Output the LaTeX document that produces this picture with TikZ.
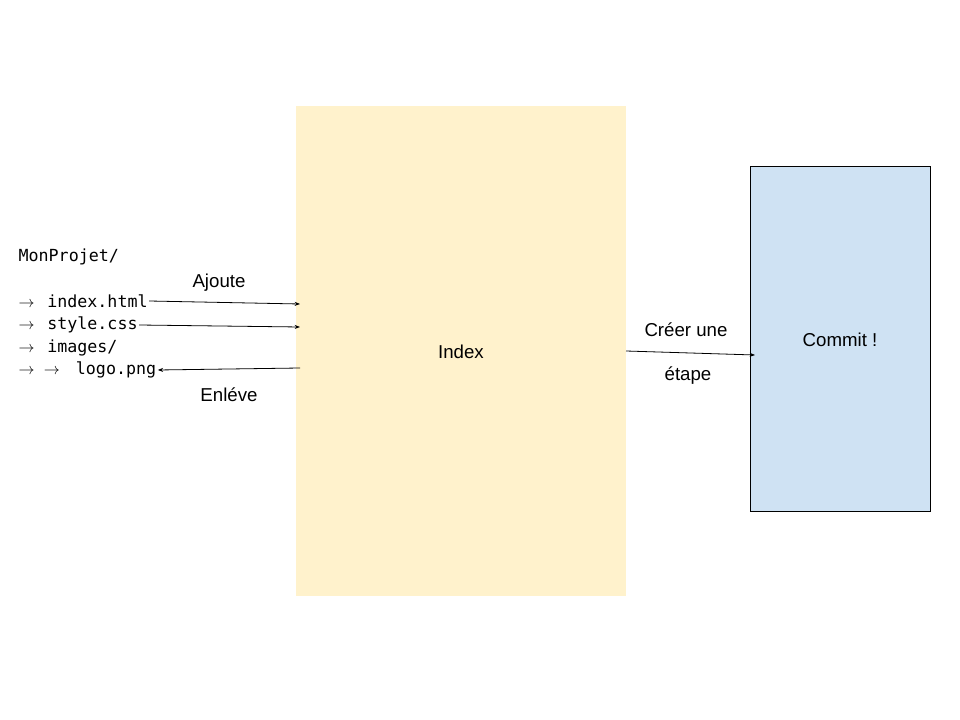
\documentclass[tikz,border=0pt]{standalone}
\usepackage{fontspec}
\setmainfont{Liberation Sans}
\setmonofont{DejaVu Sans Mono}
\usetikzlibrary{arrows.meta}
\definecolor{idxfill}{HTML}{FFF2CC}
\definecolor{comfill}{HTML}{CFE2F3}
\newcommand{\arr}{\(\rightarrow\)}
\begin{document}
\begin{tikzpicture}[x=0.75pt,y=-0.75pt,
  lbl/.style={font=\fontsize{14}{16}\selectfont, inner sep=0pt},
  file/.style={font=\ttfamily\fontsize{12.5}{14}\selectfont, inner sep=1pt, anchor=west},
  conn/.style={-{Stealth[length=4pt,width=3pt]}, line width=0.6pt}]
\fill[white] (0,0) rectangle (960,720);
\useasboundingbox (0,0) rectangle (960,720);
\node[fill=idxfill, minimum width=330*0.75pt, minimum height=490*0.75pt, inner sep=0pt, anchor=north west] (index) at (296,106) {};
\node[lbl] (indexlbl) at (461,352) {Index};
\node[fill=comfill, draw=black, line width=0.6pt, minimum width=180*0.75pt, minimum height=345*0.75pt, inner sep=0pt, anchor=north west] (commit) at (750,166) {};
\node[lbl] (commitlbl) at (840,340) {Commit !};
\node[file] (proj) at (17,257) {MonProjet/};
\node[file] (f1) at (17,301) {\arr\hspace{9.5pt}index.html};
\node[file] (f2) at (17,325) {\arr\hspace{9.5pt}style.css};
\node[file] (f3) at (17,348) {\arr\hspace{9.5pt}images/};
\node[file] (f4) at (17,370) {\arr\hspace{7pt}\arr\hspace{12pt}logo.png};
\coordinate (a1) at (300,304);
\coordinate (a2) at (300,327);
\coordinate (a3) at (300,368);
\coordinate (c1) at (626,351);
\coordinate (c2) at (755,355);
\draw[conn] (f1.east) -- (a1);
\draw[conn] (f2.east) -- (a2);
\draw[conn] (a3) -- (f4.east);
\draw[conn] (c1) -- (c2);
\node[lbl] (ajoute) at (219,283) {Ajoute};
\node[lbl] (enleve) at (229,395) {Enléve};
\node[lbl] (creer) at (686,330) {Créer une};
\node[lbl] (etape) at (688,376) {étape};
\end{tikzpicture}
\end{document}
